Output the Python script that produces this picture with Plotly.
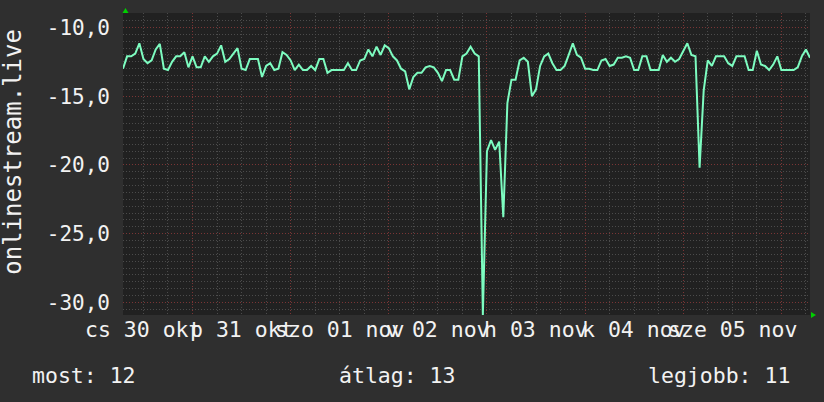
import plotly.graph_objects as go
import pandas as pd

# hourly samples, 2025-10-30 07:00 .. 2025-11-06 07:00
start = "2025-10-30 07:00"
values = [
    -13.0, -12.1, -12.1, -11.9, -11.15, -12.3, -12.6, -12.4, -11.6, -11.2,
    -13.0, -13.1, -12.5, -12.1, -12.1, -11.8, -12.9, -12.1, -12.9, -12.9,
    -12.1, -12.5, -12.1, -11.9, -11.3, -12.5, -12.3, -11.9, -11.5, -13.0,
    -13.1, -12.3, -12.3, -12.3, -13.6, -12.8, -12.6, -13.1, -13.0, -11.8,
    -12.0, -12.4, -13.1, -12.7, -13.1, -13.1, -12.8, -13.1, -12.3, -12.3,
    -13.3, -13.1, -13.1, -13.1, -13.1, -12.6, -13.1, -13.1, -12.4, -12.3,
    -11.6, -12.1, -11.4, -12.0, -11.3, -11.5, -12.1, -12.4, -13.0, -13.2,
    -14.5, -13.6, -13.3, -13.3, -12.9, -12.8, -12.9, -13.3, -13.9, -13.1,
    -13.1, -13.8, -13.8, -12.1, -11.9, -11.4, -11.9, -12.1, -30.9, -19.0,
    -18.2, -18.9, -18.3, -23.8, -15.5, -13.8, -13.8, -12.4, -12.2, -12.5,
    -15.0, -14.5, -12.8, -12.1, -11.9, -12.6, -13.1, -13.1, -12.8, -12.0,
    -11.15, -12.0, -12.2, -13.0, -13.0, -13.1, -13.1, -12.4, -12.3, -12.8,
    -12.7, -12.2, -12.2, -12.1, -12.2, -13.1, -13.1, -12.1, -12.1, -13.1,
    -13.1, -13.1, -12.0, -12.5, -12.2, -12.5, -12.3, -11.7, -11.15, -12.0,
    -12.1, -20.2, -14.6, -12.4, -12.8, -12.1, -12.1, -12.1, -12.6, -12.8,
    -12.1, -12.1, -12.1, -13.1, -13.1, -11.7, -12.7, -12.8, -13.1, -12.7,
    -12.1, -13.1, -13.1, -13.1, -13.1, -12.9, -12.1, -11.6, -12.2,
]
times = pd.date_range(start, periods=len(values), freq="h")

# x labels sit at noon of each day, red grid at midnight
label_days = ["2025-10-30", "2025-10-31", "2025-11-01", "2025-11-02",
              "2025-11-03", "2025-11-04", "2025-11-05"]
label_text = ["cs 30 okt", "p 31 okt", "szo 01 nov", "v 02 nov",
              "h 03 nov", "k 04 nov", "sze 05 nov"]
midnights = ["2025-10-31", "2025-11-01", "2025-11-02", "2025-11-03",
             "2025-11-04", "2025-11-05", "2025-11-06"]

y_ticks = [-10, -15, -20, -25, -30]
y_text = ["-10,0", "-15,0", "-20,0", "-25,0", "-30,0"]

legend_items = ["most: 12", "átlag: 13", "legjobb: 11"]
y_title = "onlinestream.live"

FONT = "DejaVu Sans Mono"
TXT = "#f2f2f2"
GRID = "#4b4b4b"
MAJOR = "#7a3535"
ARROW = "#00d000"
PAPER = "#2f2f2f"

fig = go.Figure()
fig.add_trace(go.Scatter(
    x=times, y=values, mode="lines",
    line=dict(color="#7dfcc0", width=2),
    hoverinfo="skip", showlegend=False,
))

fig.update_layout(
    width=824, height=402,
    margin=dict(l=123, r=14, t=13, b=87),
    paper_bgcolor=PAPER,
    plot_bgcolor="#212121",
    font=dict(family=FONT, size=21, color=TXT),
    showlegend=False,
)

fig.update_xaxes(
    range=["2025-10-30 07:00", "2025-11-06 07:00"],
    tickmode="array", tickvals=midnights, showticklabels=False,
    ticks="", automargin=False,
    showgrid=True, gridcolor=MAJOR, griddash="1px,2px", gridwidth=1,
    minor=dict(dtick=6 * 3600 * 1000, tick0="2025-10-30 00:00",
               showgrid=True, gridcolor=GRID, griddash="1px,2px", ticks=""),
    zeroline=False, showline=False,
)

fig.update_yaxes(
    range=[-30.91, -8.95],
    tickmode="array", tickvals=y_ticks, ticktext=y_text,
    ticks="", ticklabelstandoff=12, automargin=False,
    showgrid=True, gridcolor=MAJOR, griddash="1px,2px", gridwidth=1,
    minor=dict(dtick=0.5, tick0=0, showgrid=True, gridcolor=GRID,
               griddash="1px,2px", ticks=""),
    zeroline=False, showline=False,
    tickfont=dict(family=FONT, size=21, color=TXT),
)

# day labels centred on noon
for d, txt in zip(label_days, label_text):
    fig.add_annotation(text=txt, x=pd.Timestamp(d) + pd.Timedelta(hours=12),
                       xref="x", yref="paper", y=-0.049,
                       xanchor="center", yanchor="middle", showarrow=False,
                       font=dict(family=FONT, size=21.5, color=TXT))

# axis arrows
fig.add_shape(type="path", xref="paper", yref="paper",
              xsizemode="pixel", ysizemode="pixel", xanchor=0, yanchor=1,
              path="M -0.5,0 L 5.5,0 L 2.5,5 Z",
              fillcolor=ARROW, line=dict(width=0))
fig.add_shape(type="path", xref="paper", yref="paper",
              xsizemode="pixel", ysizemode="pixel", xanchor=1, yanchor=0,
              path="M 1,-3 L 1,3 L 6,0 Z",
              fillcolor=ARROW, line=dict(width=0))

# y title
fig.add_annotation(text=y_title, xref="paper", yref="paper",
                   x=-0.16, y=0.541, textangle=-90, showarrow=False,
                   xanchor="center", yanchor="middle",
                   font=dict(family=FONT, size=24, color=TXT))

# legend line
for txt, xp in zip(legend_items, [-0.136, 0.311, 0.762]):
    fig.add_annotation(text=txt, xref="paper", yref="paper",
                       x=xp, y=-0.199, xanchor="left", yanchor="middle",
                       showarrow=False,
                       font=dict(family=FONT, size=21.5, color=TXT))

fig.write_html(
    "out.html",
    config={"displayModeBar": False},
    post_script="document.body.style.margin='0';"
                "document.body.style.background='" + PAPER + "';",
)
